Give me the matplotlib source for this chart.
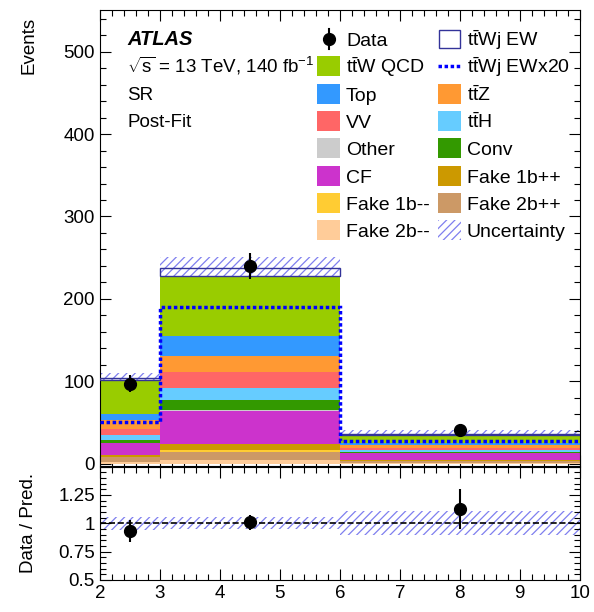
import numpy as np
import matplotlib
matplotlib.use("Agg")
import matplotlib.pyplot as plt
from matplotlib.patches import Rectangle
from matplotlib.lines import Line2D
from matplotlib.ticker import MultipleLocator

plt.rcParams["font.family"] = ["Liberation Sans", "DejaVu Sans"]
plt.rcParams["mathtext.fontset"] = "custom"
plt.rcParams["mathtext.rm"] = "Liberation Sans"
plt.rcParams["mathtext.it"] = "Liberation Sans:italic"
plt.rcParams["hatch.linewidth"] = 0.9

# bin edges (number of jets)
edges = np.array([2, 3, 6, 10])
centers = [2.5, 4.5, 8.0]

# stacked backgrounds, bottom -> top
fake_2b_mm = [1.5, 4.5, 1.0]
fake_2b_pp = [6.0, 10.0, 2.0]
fake_1b_mm = [0.5, 1.7, 0.3]
fake_1b_pp = [2.5, 7.0, 1.0]
cf = [14.0, 41.0, 8.0]
other = [0.3, 0.5, 0.3]
conv = [4.0, 13.0, 1.5]
tth = [6.0, 13.5, 2.5]
vv = [7.0, 19.5, 2.8]
ttz = [11.5, 19.5, 3.3]
top = [7.0, 24.5, 2.8]
ttw_qcd = [41.0, 73.5, 9.5]
ttwj_ew = [2.5, 9.5, 1.35]
uncert = [6.0, 12.5, 3.8]

data = [97, 240, 41]
data_err = [10.0, 15.5, 6.5]

stack = [
    (fake_2b_mm, "#ffcc99"),
    (fake_2b_pp, "#cc9966"),
    (fake_1b_mm, "#ffcc33"),
    (fake_1b_pp, "#cc9900"),
    (cf, "#cc33cc"),
    (other, "#cccccc"),
    (conv, "#339900"),
    (tth, "#66ccff"),
    (vv, "#ff6666"),
    (ttz, "#ff9933"),
    (top, "#3399ff"),
    (ttw_qcd, "#99cc00"),
]
hatch_col = "#7f7fef"
ew_col = "#333399"
dot_style = (0, (1, 0.75))

W, H = 594, 612
fig = plt.figure(figsize=(W / 100, H / 100), dpi=100)
ax = fig.add_axes([0.168, 0.2386, 0.808, 0.7454])
rax = fig.add_axes([0.168, 0.0523, 0.808, 0.1853])

widths = np.diff(edges)
bottom = np.zeros(3)
for vals, col in stack:
    ax.bar(edges[:-1], vals, width=widths, bottom=bottom, align="edge",
           color=col, linewidth=0, zorder=2)
    bottom += np.array(vals)
ax.bar(edges[:-1], ttwj_ew, width=widths, bottom=bottom, align="edge",
       facecolor="none", edgecolor=ew_col, linewidth=1.0, zorder=3)
total = bottom + np.array(ttwj_ew)

# uncertainty band (drawn behind the stack)
ax.bar(edges[:-1], 2 * np.array(uncert), width=widths, bottom=total - np.array(uncert),
       align="edge", fill=False, hatch="////", edgecolor=hatch_col, linewidth=0, zorder=1)

ax.stairs(np.array(ttwj_ew) * 20, edges, baseline=None, color="#0000ff",
          linestyle=dot_style, linewidth=2.5, zorder=4)

ax.errorbar(centers, data, yerr=data_err, fmt="o", color="black",
            ms=8.5, elinewidth=1.5, capsize=0, zorder=5)

ax.set_xlim(2, 10)
ax.set_ylim(-3, 551)
ax.xaxis.set_major_locator(MultipleLocator(1))
ax.xaxis.set_minor_locator(MultipleLocator(0.2))
ax.yaxis.set_major_locator(MultipleLocator(100))
ax.yaxis.set_minor_locator(MultipleLocator(20))
ax.tick_params(labelbottom=False)
ax.set_ylabel("Events", loc="top", fontsize=13.5)

# ratio panel
ratio = np.array(data) / total
ratio_err = np.array(data_err) / total
rel_unc = np.array(uncert) / total
rax.bar(edges[:-1], 2 * rel_unc, width=widths, bottom=1 - rel_unc, align="edge",
        fill=False, hatch="////", edgecolor=hatch_col, linewidth=0, zorder=1)
rax.axhline(1, color="black", ls="--", lw=1.2, zorder=2)
rax.errorbar(centers, ratio, yerr=ratio_err, fmt="o", color="black",
             ms=8.5, elinewidth=1.5, capsize=0, zorder=3)
rax.set_xlim(2, 10)
rax.set_ylim(0.5, 1.5)
rax.xaxis.set_major_locator(MultipleLocator(1))
rax.xaxis.set_minor_locator(MultipleLocator(0.2))
rax.yaxis.set_major_locator(MultipleLocator(0.25))
rax.yaxis.set_minor_locator(MultipleLocator(0.05))
rax.yaxis.set_major_formatter(lambda v, p: "" if v > 1.4 else f"{v:g}")
rax.set_ylabel("Data / Pred.", fontsize=13.5)

for a in (ax, rax):
    a.tick_params(which="both", direction="in", top=True, right=True, labelsize=13.5)
    a.tick_params(which="major", length=8, width=0.8)
    a.tick_params(which="minor", length=4, width=0.8)
ax.yaxis.set_label_coords(-0.13, 0.985)
rax.yaxis.set_label_coords(-0.13, 0.5)

# labels
fig.text(0.214, 0.9265, "ATLAS", fontsize=14.5, fontweight="bold", fontstyle="italic")
fig.text(0.214, 0.881, r"$\sqrt{\mathrm{s}}$ = 13 TeV, 140 fb$^{-1}$", fontsize=13.5)
fig.text(0.214, 0.837, "SR", fontsize=13.5)
fig.text(0.214, 0.793, "Post-Fit", fontsize=13.5)

# legend, drawn entry by entry in pixel positions
rows_y = [39, 66.3, 93.6, 120.9, 148.2, 175.5, 202.8, 230.1]
col_x = [317, 438]
hw, hh = 23, 20


def fx(px):
    return px / W


def fy(py):
    return 1 - py / H


def legend_entry(col, row, kind, label, color=None):
    x0 = col_x[col]
    yc = rows_y[row]
    tr = fig.transFigure
    if kind == "fill":
        fig.add_artist(Rectangle((fx(x0), fy(yc + hh / 2)), fx(hw), hh / H,
                                 facecolor=color, linewidth=0, transform=tr))
    elif kind == "box":
        fig.add_artist(Rectangle((fx(x0 + 1), fy(yc + hh / 2 - 1)), fx(hw - 2), (hh - 2) / H,
                                 facecolor="white", edgecolor=ew_col, linewidth=1.0,
                                 transform=tr))
    elif kind == "hatch":
        fig.add_artist(Rectangle((fx(x0), fy(yc + hh / 2)), fx(hw), hh / H,
                                 fill=False, hatch="////", edgecolor=hatch_col,
                                 linewidth=0, transform=tr))
    elif kind == "dots":
        fig.add_artist(Line2D([fx(x0), fx(x0 + hw)], [fy(yc), fy(yc)], color="#0000ff",
                              ls=dot_style, lw=2.5, transform=tr))
    elif kind == "data":
        fig.add_artist(Line2D([fx(x0 + hw / 2)] * 2, [fy(yc - hh / 2), fy(yc + hh / 2)],
                              color="black", lw=1.5, transform=tr))
        fig.add_artist(Line2D([fx(x0 + hw / 2)], [fy(yc)], marker="o", ms=8.5,
                              color="black", transform=tr))
    fig.text(fx(x0 + hw + 6), fy(yc + 7), label, fontsize=14, va="baseline")


legend_entry(0, 0, "data", "Data")
legend_entry(0, 1, "fill", r"$\mathrm{t\bar{t}W}$ QCD", "#99cc00")
legend_entry(0, 2, "fill", "Top", "#3399ff")
legend_entry(0, 3, "fill", "VV", "#ff6666")
legend_entry(0, 4, "fill", "Other", "#cccccc")
legend_entry(0, 5, "fill", "CF", "#cc33cc")
legend_entry(0, 6, "fill", "Fake 1b--", "#ffcc33")
legend_entry(0, 7, "fill", "Fake 2b--", "#ffcc99")
legend_entry(1, 0, "box", r"$\mathrm{t\bar{t}Wj}$ EW")
legend_entry(1, 1, "dots", r"$\mathrm{t\bar{t}Wj}$ EWx20")
legend_entry(1, 2, "fill", r"$\mathrm{t\bar{t}Z}$", "#ff9933")
legend_entry(1, 3, "fill", r"$\mathrm{t\bar{t}H}$", "#66ccff")
legend_entry(1, 4, "fill", "Conv", "#339900")
legend_entry(1, 5, "fill", "Fake 1b++", "#cc9900")
legend_entry(1, 6, "fill", "Fake 2b++", "#cc9966")
legend_entry(1, 7, "hatch", "Uncertainty")

fig.savefig("out.png", dpi=100)
